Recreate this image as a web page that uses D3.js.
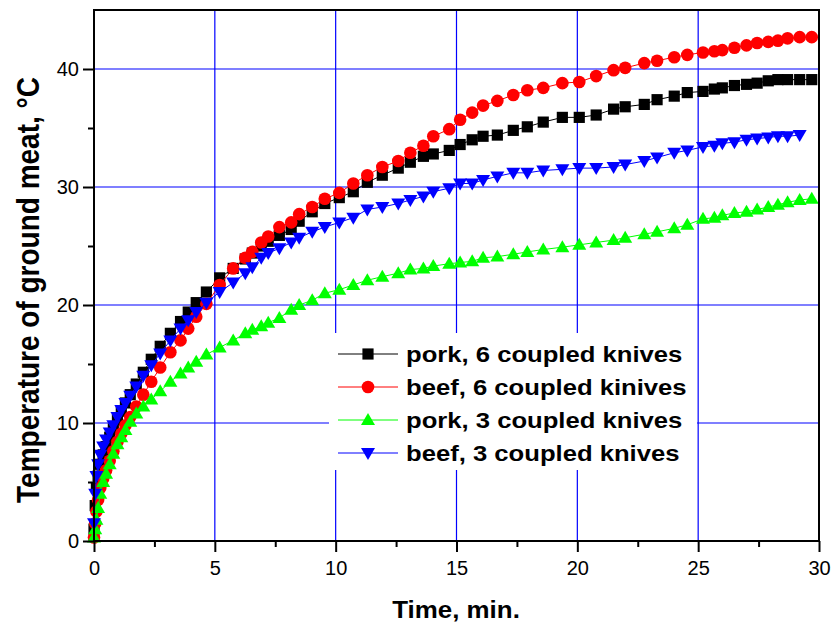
<!DOCTYPE html>
<html><head><meta charset="utf-8">
<script src="https://cdn.jsdelivr.net/npm/d3@7"></script>
<style>body{margin:0;background:#fff}svg{display:block}text{font-family:"Liberation Sans",Arial,sans-serif}</style>
</head><body><svg id="c" width="833" height="626"></svg>
<script>
const times = [0,0.05,0.1,0.17,0.26,0.38,0.5,0.65,0.8,0.97,1.13,1.3,1.5,1.75,2.04,2.37,2.74,3.16,3.58,3.9,4.23,4.65,5.2,5.76,6.26,6.55,6.92,7.21,7.67,8.16,8.49,9.03,9.55,10.15,10.73,11.31,11.93,12.59,13.09,13.63,14.04,14.7,15.15,15.65,16.1,16.69,17.35,17.93,18.59,19.38,20.08,20.78,21.5,21.98,22.77,23.3,24.01,24.55,25.2,25.67,26.0,26.5,27.0,27.44,27.9,28.3,28.7,29.2,29.7];
const pork6 = [1.0,3.0,4.5,5.5,6.5,7.3,8.0,8.8,9.5,10.3,11.0,11.7,12.4,13.3,14.3,15.4,16.5,17.6,18.6,19.4,20.2,21.1,22.3,23.1,23.9,24.4,25.0,25.4,25.9,26.4,27.1,27.9,28.6,29.1,29.6,30.4,31.0,31.6,32.1,32.6,32.8,33.1,33.6,34.0,34.3,34.4,34.8,35.1,35.5,35.9,35.9,36.1,36.6,36.8,37.0,37.4,37.7,38.0,38.1,38.3,38.4,38.6,38.7,38.8,39.0,39.1,39.1,39.1,39.1];
const beef6 = [0.3,1.5,2.5,3.5,4.5,5.3,6.0,6.8,7.6,8.4,9.1,9.8,10.5,11.4,12.4,13.5,14.7,16.0,17.0,18.0,19.0,20.1,21.7,23.1,24.0,24.5,25.3,25.8,26.6,27.0,27.7,28.3,29.0,29.5,30.3,31.0,31.7,32.2,32.9,33.5,34.3,34.9,35.7,36.3,36.9,37.3,37.8,38.2,38.4,38.8,38.9,39.4,39.9,40.1,40.5,40.7,41.0,41.2,41.4,41.5,41.6,41.8,42.0,42.2,42.3,42.4,42.6,42.7,42.7];
const pork3 = [0.3,1.0,1.8,2.8,4.0,5.0,5.7,6.5,7.4,8.2,8.8,9.4,10.1,10.8,11.4,12.0,12.7,13.5,14.2,14.7,15.2,15.8,16.4,17.0,17.6,17.9,18.2,18.5,18.9,19.6,20.0,20.4,21.0,21.3,21.7,22.1,22.4,22.7,23.0,23.1,23.3,23.5,23.6,23.7,24.0,24.1,24.3,24.5,24.7,24.9,25.1,25.3,25.5,25.7,26.0,26.2,26.5,26.8,27.3,27.4,27.6,27.8,27.9,28.1,28.3,28.5,28.7,28.9,29.0];
const beef3 = [1.5,4.0,5.5,6.5,7.3,8.0,8.6,9.2,9.8,10.5,11.1,11.7,12.3,13.1,14.0,14.9,15.9,17.0,18.0,18.7,19.4,20.2,21.1,21.9,22.7,23.2,24.0,24.4,24.8,25.3,25.7,26.2,26.6,27.0,27.4,28.1,28.3,28.6,28.9,29.2,29.6,29.9,30.3,30.3,30.6,30.9,31.2,31.2,31.4,31.5,31.6,31.6,31.7,31.9,32.2,32.5,32.9,33.1,33.4,33.5,33.7,33.8,34.0,34.1,34.2,34.3,34.3,34.4];
const seriesNames = ["pork, 6 coupled knives","beef, 6 coupled kinives","pork, 3 coupled knives","beef, 3 coupled knives"];
const seriesColors = ["#000000","#ff0000","#00ff00","#0000ff"];
const seriesShapes = ["square","circle","triangle","triangleDown"];
const seriesValues = [pork6, beef6, pork3, beef3];
const xTicks = [0,5,10,15,20,25,30];
const yTicks = [0,10,20,30,40];
const xTitle = "Time, min.";
const yTitle = "Temperature of ground meat, °C";

const svg = d3.select("#c");
const L=94, R=819, T=10, B=541;
const x = d3.scaleLinear().domain([0,30]).range([L,R]);
const y = d3.scaleLinear().domain([0,45]).range([B,T]);

// grid
const g = svg.append("g");
g.selectAll(".vg").data(xTicks.slice(1,-1)).join("line")
  .attr("x1",d=>x(d)).attr("x2",d=>x(d)).attr("y1",T).attr("y2",B)
  .attr("stroke","#0000ff").attr("stroke-width",1.2);
g.selectAll(".hg").data(yTicks.slice(1)).join("line")
  .attr("x1",L).attr("x2",R).attr("y1",d=>y(d)).attr("y2",d=>y(d))
  .attr("stroke","#0000ff").attr("stroke-width",1.2);

// legend background covering grid
svg.append("rect").attr("x",329).attr("y",333).attr("width",368).attr("height",137).attr("fill","#fff");

function sym(shape){
  if(shape==="square") return d3.symbol(d3.symbolSquare,125)();
  if(shape==="circle") return d3.symbol(d3.symbolCircle,125)();
  if(shape==="triangle") return "M0,-7L7,5L-7,5Z";
  return "M0,7L7,-5L-7,-5Z";
}

seriesValues.forEach((vals,i)=>{
  const pts = vals.map((v,j)=>[times[j],v]);
  svg.append("path").attr("d",d3.line().x(d=>x(d[0])).y(d=>y(d[1]))(pts))
    .attr("fill","none").attr("stroke",seriesColors[i]).attr("stroke-width",1);
  svg.append("g").selectAll("path").data(pts).join("path")
    .attr("transform",d=>`translate(${x(d[0])},${y(d[1])})`)
    .attr("d",sym(seriesShapes[i])).attr("fill",seriesColors[i]);
});

// axes
const xAxis = d3.axisBottom(x).tickValues(xTicks).tickSize(11).tickPadding(9).tickFormat(d3.format("d"));
const xMinor = d3.axisBottom(x).tickValues(d3.range(2.5,30,5)).tickSize(6).tickFormat("");
const yAxis = d3.axisLeft(y).tickValues(yTicks).tickSize(11).tickPadding(4).tickFormat(d3.format("d"));
const yMinor = d3.axisLeft(y).tickValues(d3.range(5,45,10)).tickSize(6).tickFormat("");
function style(sel){
  sel.select(".domain").remove();
  sel.selectAll("line").attr("stroke","#000").attr("stroke-width",2);
  sel.selectAll("text").attr("font-size",20).attr("fill","#000");
}
svg.append("g").attr("transform",`translate(0,${B})`).call(xAxis).call(style);
svg.append("g").attr("transform",`translate(0,${B})`).call(xMinor).call(style);
svg.append("g").attr("transform",`translate(${L},0)`).call(yAxis).call(style);
svg.append("g").attr("transform",`translate(${L},0)`).call(yMinor).call(style);

// frame
svg.append("rect").attr("x",L).attr("y",T).attr("width",R-L).attr("height",B-T)
  .attr("fill","none").attr("stroke","#000").attr("stroke-width",2);

// titles
svg.append("text").attr("transform","translate(456,618) scale(1.08,1)").attr("text-anchor","middle")
  .attr("font-size",24).attr("font-weight","bold").text(xTitle);
svg.append("text").attr("transform","translate(39,290) rotate(-90) scale(1,1.15)").attr("text-anchor","middle")
  .attr("font-size",28).attr("font-weight","bold").text(yTitle);

// legend
const rows = [354,387,420,453];
seriesNames.forEach((n,i)=>{
  const lg = svg.append("g");
  lg.append("line").attr("x1",338).attr("x2",398).attr("y1",rows[i]).attr("y2",rows[i])
    .attr("stroke",seriesColors[i]).attr("stroke-width",1);
  lg.append("path").attr("transform",`translate(368,${rows[i]})`).attr("d",sym(seriesShapes[i])).attr("fill",seriesColors[i]);
  lg.append("text").attr("transform",`translate(406,${rows[i]+8}) scale(1.15,1)`).attr("font-size",22.3).attr("font-weight","bold").text(n);
});
</script></body></html>
